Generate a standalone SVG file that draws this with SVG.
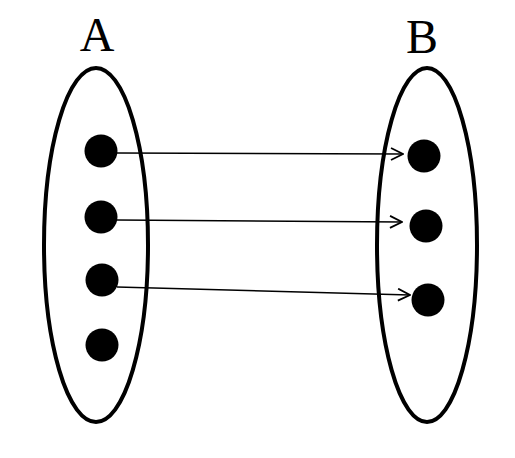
<svg xmlns="http://www.w3.org/2000/svg" width="515" height="458" viewBox="0 0 515 458">
<style>
.set{fill:none;stroke:#000;stroke-width:4}
.dot{fill:#000}
.lbl{font-family:"Liberation Serif",serif;font-size:48px;fill:#000;text-anchor:middle}
.edge{stroke:#000;stroke-width:1.6;fill:none}
</style>
<defs>
<marker id="arr" viewBox="0 0 14 14" refX="13" refY="7" markerWidth="14" markerHeight="14" markerUnits="userSpaceOnUse" orient="auto">
<path d="M1,1 L13,7 L1,13" fill="none" stroke="#000" stroke-width="1.8"/>
</marker>
</defs>
<g id="setA">
<ellipse class="set" cx="96" cy="245" rx="52" ry="177"/>
<text class="lbl" x="97" y="51">A</text>
<circle class="dot" cx="101" cy="151" r="16.5"/>
<circle class="dot" cx="101" cy="217" r="16.5"/>
<circle class="dot" cx="102" cy="280" r="16.5"/>
<circle class="dot" cx="102" cy="345" r="16.5"/>
</g>
<g id="setB">
<ellipse class="set" cx="427" cy="245" rx="50" ry="177"/>
<text class="lbl" x="422" y="53">B</text>
<circle class="dot" cx="424" cy="156" r="16.5"/>
<circle class="dot" cx="426" cy="226" r="16.5"/>
<circle class="dot" cx="428" cy="300" r="16.5"/>
</g>
<g id="connectors">
<line class="edge" x1="117" y1="153" x2="403" y2="154" marker-end="url(#arr)"/>
<line class="edge" x1="117" y1="220" x2="402" y2="222" marker-end="url(#arr)"/>
<line class="edge" x1="117" y1="287" x2="410" y2="295" marker-end="url(#arr)"/>
</g>
</svg>
